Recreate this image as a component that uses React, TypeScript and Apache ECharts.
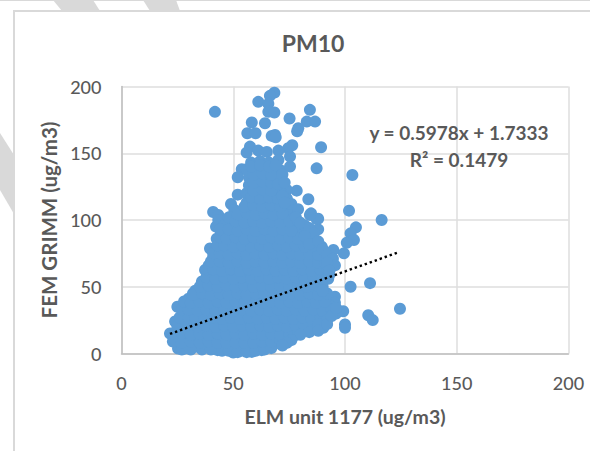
import React, { useEffect, useRef } from "react";
import * as echarts from "echarts";

const titleText = "PM10";
const xAxisName = "ELM unit 1177 (ug/m3)";
const yAxisName = "FEM GRIMM (ug/m3)";
const equationLines = ["y = 0.5978x + 1.7333", "R² = 0.1479"];
const trendPoints = [[21.7, 14.7], [123.6, 75.6]];

const outlierPoints = [
  [41.8,181],[61.2,188.5],[58.3,173],[64.2,172.5],[56.3,165],[60,165],[57.5,155],[56,150.5],[61.2,152],[65,151],
  [53.8,138],[52,132],[52,119],[49,112],[50.5,107.5],[41,106],[43.3,103.7],
  [68.4,195.4],[66.4,193],[65.7,187],[65.7,181],[68.4,180.5],[75.2,176],[84.3,182.5],[82.9,173.7],[86.6,173.7],
  [79.1,168.7],[78.6,166.5],[68.7,163.7],[67.2,163],[69,162],[89.3,154.5],[76.4,156],[74.6,153.7],[70.2,152],
  [87.3,138.7],[103.3,133.7],[75.4,147.5],[75.4,140],[70.2,145],[70.9,137.5],[71.7,130],[78.4,122],[74,122.5],
  [71,117.5],[83.6,115.5],[76,106],[84.8,105],[88,101],[101.8,107],[116.4,100],
  [104.9,94.5],[102.5,90],[104,85],[100.8,83],[99.5,75],[94.8,77.5],[89.6,80],[88,93],[85.8,87.5],[80,92.5],
  [87.3,100.7],[84.3,103.7],[92.5,56],[102.5,50],[111.2,52.7],[124.6,33.5],[110.4,28.7],[112.4,25],
  [100,21.7],[100,19.2],[99.2,31.7],[95.5,42.5],[95.5,38],[90.3,19.2],[86.6,19.2],[82,17.5],[77.6,13.7],[71.7,7.5],
  [21.7,15],[24,24],[25,35],[25.3,3.7],[28.4,3.7],[34,5],[43,2.5],[50,0.8],[58.3,1.2],[62.7,2.5],[70.6,7.5],
  [32,45],[35.9,52.5],[37.4,62.5],[39.6,78.7],[42.6,86],[42.3,95],[43.3,100],
];

const lowerCloud = [
  [30,6],[34,7],[38,5],[42,6],[46,5],[50,4],[54,5],[58,4],[62,6],[66,6],[68,8],
  [25,12],[29,11],[33,12],[37,11],[41,12],[45,11],[49,12],[53,11],[57,12],[61,11],[65,12],[69,11],[73,12],[76,13],
  [25,18],[28,18],[32,17],[36,18],[40,17],[44,18],[48,17],[52,18],[56,17],[60,18],[64,17],[68,18],[72,17],[76,18],[80,18],[84,20],
  [27,24],[31,24],[35,23],[39,24],[43,23],[47,24],[51,23],[55,24],[59,23],[63,24],[67,23],[71,24],[75,23],[79,24],[83,23],[87,24],
  [28,30],[32,30],[36,29],[40,30],[44,29],[48,30],[52,29],[56,30],[60,29],[64,30],[68,29],[72,30],[76,29],[80,30],[84,29],[88,30],[92,31],
  [29,36],[33,35],[37,36],[41,35],[45,36],[49,35],[53,36],[57,35],[61,36],[65,35],[69,36],[73,35],[77,36],[81,35],[85,36],[89,35],[93,36],
  [30,41],[34,42],[38,41],[42,42],[46,41],[50,42],[54,41],[58,42],[62,41],[66,42],[70,41],[74,42],[78,41],[82,42],[86,41],[90,43],
  [33,47],[37,48],[41,47],[45,48],[49,47],[53,48],[57,47],[61,48],[65,47],[69,48],[73,47],[77,48],[81,47],[85,48],[89,47],
];

const upperCloud = [
  [36,54],[40,53],[44,54],[48,53],[52,54],[56,53],[60,54],[64,53],[68,54],[72,53],[76,54],[80,53],[84,54],[88,53],
  [39,60],[43,60],[47,59],[51,60],[55,59],[59,60],[63,59],[67,60],[71,59],[75,60],[79,59],[83,60],[87,59],[91,60],
  [39,66],[42,66],[46,65],[50,66],[54,65],[58,66],[62,65],[66,66],[70,65],[74,66],[78,65],[82,66],[86,65],[90,66],
  [41,72],[45,72],[49,71],[53,72],[57,71],[61,72],[65,71],[69,72],[73,71],[77,72],[81,71],[85,72],[89,71],[92,70],
  [42,78],[46,77],[50,78],[54,77],[58,78],[62,77],[66,78],[70,77],[74,78],[78,77],[82,78],[86,77],
  [44,84],[48,83],[52,84],[56,83],[60,84],[64,83],[68,84],[72,83],[76,84],[80,83],[84,84],
  [45,90],[49,90],[53,89],[57,90],[61,89],[65,90],[69,89],[73,90],[77,89],[81,90],
  [46,96],[50,96],[54,95],[58,96],[62,95],[66,96],[70,95],[74,96],[78,96],
  [48,102],[53,101],[57,102],[61,101],[65,102],[69,101],[73,102],
  [54,107],[58,108],[62,107],[66,108],[70,107],[74,108],
  [56,113],[60,114],[64,113],[68,114],[72,112],
  [56,120],[60,119],[64,120],[68,119],[71,122],
  [57,126],[61,125],[65,126],[69,125],
  [57,132],[61,131],[65,132],[68,132],
  [56,138],[60,137],[64,138],[68,137],
  [58,143],[62,144],[66,143],
];

const lowerFill = [
  [27,3],[31,3],[36,3],[40,3],[45,2],[48,2],[52,1],[56,1],[60,2],[64,3],[67,4],
  [23,9],[27,8],[31,9],[35,8],[39,9],[43,8],[47,8],[51,8],[55,8],[59,8],[63,9],[67,9],[71,10],[74,10],
  [23,15],[27,15],[31,14],[35,15],[39,14],[43,15],[47,14],[51,15],[55,14],[59,15],[63,14],[67,15],[71,14],[75,15],[79,15],
  [25,21],[29,21],[34,20],[38,21],[42,20],[46,21],[50,20],[54,21],[58,20],[62,21],[66,20],[70,21],[74,20],[78,21],[82,20],[86,22],
  [26,27],[30,27],[33,27],[37,26],[41,27],[45,26],[49,27],[53,26],[57,27],[61,26],[65,27],[69,26],[73,27],[77,26],[81,27],[85,26],[89,27],
  [27,33],[30,33],[34,32],[38,33],[42,32],[46,33],[50,32],[54,33],[58,32],[62,33],[66,32],[70,33],[74,32],[78,33],[82,32],[86,33],[90,32],[94,33],
  [28,39],[31,38],[35,39],[39,38],[43,39],[47,38],[51,39],[55,38],[59,39],[63,38],[67,39],[71,38],[75,39],[79,38],[83,39],[87,38],[91,39],
  [32,44],[36,45],[40,44],[44,45],[48,44],[52,45],[56,44],[60,45],[64,44],[68,45],[72,44],[76,45],[80,44],[84,45],[88,44],
];

const upperFill = [
  [35,50],[39,51],[43,50],[47,51],[51,50],[55,51],[59,50],[63,51],[67,50],[71,51],[75,50],[79,51],[83,50],[87,51],[90,50],
  [38,57],[42,56],[46,57],[50,56],[54,57],[58,56],[62,57],[66,56],[70,57],[74,56],[78,57],[82,56],[86,57],[90,56],
  [38,63],[41,63],[45,62],[49,63],[53,62],[57,63],[61,62],[65,63],[69,62],[73,63],[77,62],[81,63],[85,62],[89,63],[92,63],
  [40,69],[44,69],[48,68],[52,69],[56,68],[60,69],[64,68],[68,69],[72,68],[76,69],[80,68],[84,69],[88,68],[91,68],
  [41,75],[44,75],[48,74],[52,75],[56,74],[60,75],[64,74],[68,75],[72,74],[76,75],[80,74],[84,75],[88,74],
  [43,81],[46,81],[50,80],[54,81],[58,80],[62,81],[66,80],[70,81],[74,80],[78,81],[82,80],[86,81],
  [44,87],[47,86],[51,87],[55,86],[59,87],[63,86],[67,87],[71,86],[75,87],[79,86],[83,87],
  [44,93],[48,93],[52,92],[56,93],[60,92],[64,93],[68,92],[72,93],[76,92],
  [51,99],[55,98],[59,99],[63,98],[67,99],[71,98],[75,99],[79,99],
  [52,104],[56,105],[60,104],[64,105],[68,104],[72,105],
  [55,110],[59,111],[63,110],[67,111],[71,110],
  [58,117],[62,116],[66,117],[70,116],
  [59,122],[63,123],[67,122],
  [59,128],[63,129],[67,128],[70,127],
  [59,134],[63,135],[67,134],
  [58,140],[62,141],[66,140],
];

const rightEdge = [
  [69,141],[72,134],[73,128],[74,116],[76,112],[79,108],[78,102],[82,96],[80,98],[72,118],[73,113],
  [84,94],[86,90],[82,88],[84,82],[88,84],[90,78],[92,74],[94.6,71],[95.5,66],[93,59],[92,68],[93,62],
  [84,16],[88,22],[92,25],[88,17],[92,22],[96,30],[94,28],[96,34],[80,14],[76,10],[74,8],[72,6],[92,45],[90,47],
];

const cloudPoints = [...outlierPoints, ...lowerCloud, ...upperCloud, ...lowerFill, ...upperFill, ...rightEdge];

const axisTicks = { min: 0, max: 200, interval: 50 };
const textColor = "#595959";
const fontFamily = "Lato, 'Open Sans', sans-serif";
const stripeColor = "#D9D9D9";

export default function App() {
  const ref = useRef<HTMLDivElement>(null);
  useEffect(() => {
    const chart = echarts.init(ref.current!, null, { renderer: "svg" });
    const axisCommon = {
      type: "value",
      ...axisTicks,
      nameLocation: "middle",
      axisLine: { show: true, onZero: false, lineStyle: { color: "#BFBFBF", width: 1.5 } },
      axisTick: { show: false },
      axisLabel: { color: textColor, fontFamily, fontSize: 18, fontWeight: 500, margin: 20 },
      splitLine: { show: true, lineStyle: { color: "#DEDEDE", width: 1.5 } },
    };
    const axisNameStyle = (fontSize: number) => ({ color: textColor, fontFamily, fontSize, fontWeight: "bold" });
    const stripe = (points: number[][]) => ({
      type: "polygon",
      z: -1,
      silent: true,
      shape: { points },
      style: { fill: stripeColor },
    });
    chart.setOption({
      animation: false,
      backgroundColor: "#fff",
      title: {
        text: titleText,
        left: 308,
        top: 26,
        textAlign: "center",
        textStyle: { color: textColor, fontFamily, fontSize: 23, fontWeight: "bold" },
      },
      grid: { left: 121.5, top: 86.5, width: 447, height: 267 },
      xAxis: { ...axisCommon, name: xAxisName, nameGap: 53, nameTextStyle: axisNameStyle(19.5) },
      yAxis: {
        ...axisCommon,
        name: yAxisName,
        nameGap: 59,
        nameTextStyle: axisNameStyle(20.5),
        axisLabel: { ...axisCommon.axisLabel, padding: [0, 0, 3, 0] },
      },
      graphic: [
        stripe([[53, 0], [93, 0], [100, 11], [62, 11]]),
        stripe([[143, 0], [176, 0], [180, 11], [150, 11]]),
        stripe([[0, 133], [14, 155], [14, 214], [0, 190]]),
        { type: "line", silent: true, shape: { x1: 0, y1: 0.5, x2: 590, y2: 0.5 }, style: { stroke: stripeColor, lineWidth: 1 } },
        { type: "line", silent: true, shape: { x1: 14, y1: 11, x2: 590, y2: 11 }, style: { stroke: stripeColor, lineWidth: 2 } },
        { type: "line", silent: true, shape: { x1: 14, y1: 10, x2: 14, y2: 451 }, style: { stroke: stripeColor, lineWidth: 2 } },
        ...equationLines.map((text, i) => ({
          type: "text",
          z: 10,
          x: 459,
          y: i === 0 ? 132 : 159,
          style: {
            text,
            fill: textColor,
            font: `bold 19px ${fontFamily}`,
            textAlign: "center",
            textVerticalAlign: "middle",
          },
        })),
      ],
      series: [
        {
          type: "scatter",
          data: cloudPoints,
          symbol: "circle",
          symbolSize: 12,
          itemStyle: { color: "#5B9BD5", opacity: 1 },
          silent: true,
          z: 3,
        },
        {
          type: "line",
          data: trendPoints,
          showSymbol: false,
          silent: true,
          z: 4,
          lineStyle: { color: "#000000", width: 2.4, type: [2.4, 2.9] },
        },
      ],
    });
    return () => chart.dispose();
  }, []);
  return <div ref={ref} style={{ position: "absolute", left: 0, top: 0, width: 590, height: 451 }} />;
}
